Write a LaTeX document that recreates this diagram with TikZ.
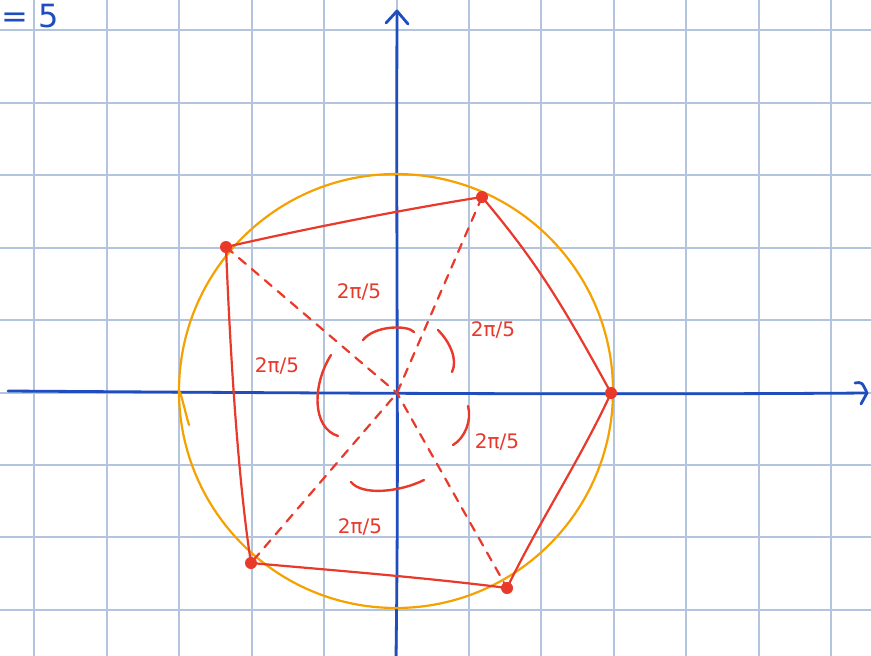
\documentclass[tikz,border=0pt]{standalone}
\usepackage{fontspec}
\setmainfont{DejaVu Sans}
\definecolor{gridc}{HTML}{B3C4DE}
\definecolor{axisc}{HTML}{1F4DBE}
\definecolor{redc}{HTML}{E8392B}
\definecolor{orc}{HTML}{F5A100}
\begin{document}
\begin{tikzpicture}[x=1pt,y=-1pt,
  gridline/.style={gridc,line width=1.2pt},
  axisline/.style={axisc,line width=2.8pt,line cap=round,line join=round},
  edge/.style={redc,line width=2.2pt,line cap=round,line join=round},
  dashline/.style={redc,line width=2.2pt,dash pattern=on 9pt off 8pt,line cap=round},
  anglearc/.style={redc,line width=2.4pt,line cap=round},
  vdot/.style={circle,fill=redc,inner sep=0pt,minimum size=12pt},
  lbl/.style={text=redc,font=\fontsize{20}{20}\selectfont,inner sep=0pt}]
\clip (0,0) rectangle (871,656);
\fill[white] (0,0) rectangle (871,656);
% grid
\foreach \x in {34,107,179,252,324,397,469,541,614,686,759,831}
  \draw[gridline] (\x,0) -- (\x,656);
\foreach \y in {30,103,175,248,320,393,465,537,610}
  \draw[gridline] (0,\y) -- (871,\y);
% axes
\coordinate (O) at (397,393);
\coordinate (xl) at (8,391);
\coordinate (xr) at (867,393);
\coordinate (yb) at (396,656);
\coordinate (yt) at (397,11);
\draw[axisline] (xl) .. controls (300,393) and (600,395) .. (xr);
\draw[axisline] (yb) .. controls (399,450) and (396,300) .. (yt);
\draw[axisline] (386,23) -- (yt) -- (408,24);
\draw[axisline] (855,383) .. controls (862,382) .. (xr) -- (861,404);
% top-left text
\node[text=axisc,font=\fontsize{32}{32}\selectfont,anchor=base west,inner sep=0pt] (eq) at (1,27) {= 5};
% circle
\node[draw=orc,line width=2.2pt,circle,minimum size=434pt,inner sep=0pt] (circ) at (396,391) {};
\draw[orc,line width=2.2pt,line cap=round] (180,392) .. controls (184,405) and (186,415) .. (189,425);
% vertices
\coordinate (P0) at (611,393);
\coordinate (P1) at (482,197);
\coordinate (P2) at (226,247);
\coordinate (P3) at (251,563);
\coordinate (P4) at (507,588);
% pentagon
\draw[edge] (P0) .. controls (560,300) and (535,260) .. (P1);
\draw[edge] (P1) .. controls (400,210) and (300,230) .. (P2);
\draw[edge] (P2) .. controls (230,350) and (238,480) .. (P3);
\draw[edge] (P3) .. controls (330,570) and (430,578) .. (P4);
\draw[edge] (P4) .. controls (540,520) and (580,460) .. (P0);
% dashed diagonals
\draw[dashline] (P2) -- (O) -- (P4);
\draw[dashline] (P1) -- (O) -- (P3);
% dots
\foreach \p in {P0,P1,P2,P3,P4} \node[vdot] at (\p) {};
% angle arcs
\draw[anglearc] (363,340) .. controls (375,325) and (408,325) .. (414,332);
\draw[anglearc] (438,330) .. controls (450,342) and (458,360) .. (452,372);
\draw[anglearc] (468,406) .. controls (472,420) and (465,438) .. (453,445);
\draw[anglearc] (351,482) .. controls (362,496) and (400,492) .. (424,480);
\draw[anglearc] (331,355) .. controls (312,385) and (312,428) .. (338,436);
% labels
\node[lbl] (l1) at (359,292) {2π/5};
\node[lbl] (l2) at (493,330) {2π/5};
\node[lbl] (l3) at (277,366) {2π/5};
\node[lbl] (l4) at (497,442) {2π/5};
\node[lbl] (l5) at (360,527) {2π/5};
\end{tikzpicture}
\end{document}
